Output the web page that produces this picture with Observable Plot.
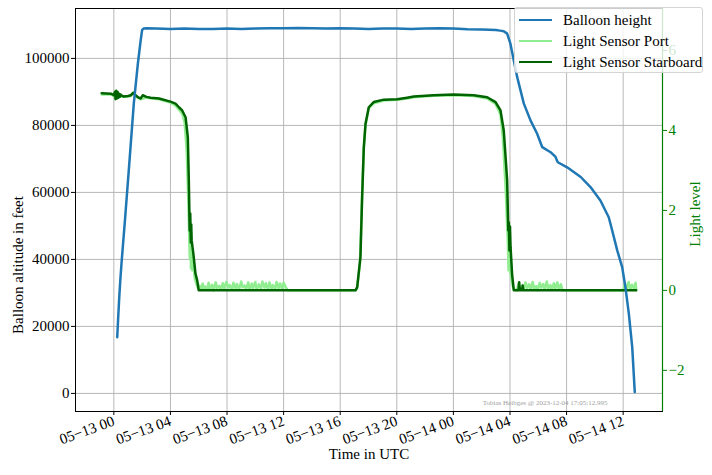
<!DOCTYPE html>
<html><head><meta charset="utf-8">
<script src="https://cdn.jsdelivr.net/npm/d3@7"></script>
<script src="https://cdn.jsdelivr.net/npm/@observablehq/plot@0.6"></script>
<style>
body{margin:0;background:#fff}
#wrap{position:relative;width:712px;height:475px;overflow:hidden}
#legend{position:absolute;left:514px;top:7px;width:189px;height:66px;background:rgba(255,255,255,0.8);border:1px solid #d4d4d4;border-radius:3px;font-family:"Liberation Serif";font-size:15px;color:#000;box-sizing:border-box}
.row{position:absolute;left:4px;height:20px;display:flex;align-items:center;white-space:nowrap}
.sw{width:33px;height:0;border-top:2.6px solid;margin-right:11px}
</style>
</head><body>
<div id="wrap"></div>
<script>
// ---- data (hours after 2023-05-13 00:00 UTC) ----
const balloonHours = [0.24,0.3,0.38,0.46,0.54,0.8,1.0,1.18,1.41,1.7,1.9,2.0,2.1,2.3,3,4,5,6,7,8,9,10,11,12,13,14,15,16,17,18,19,20,21,22,23,24,25,26,27,27.3,27.56,27.8,28.03,28.27,28.51,28.98,29.45,29.92,30.28,30.87,31.22,31.3,31.38,32.04,33.0,33.69,34.39,34.98,35.22,35.58,35.93,36.16,36.4,36.64,36.82];
const balloonFeet = [16800,22000,28500,34000,38700,52500,63500,73500,86500,98500,105500,108500,108900,109000,108900,108800,108900,108800,108800,108900,108800,108900,109000,109000,109100,109000,108900,109000,108900,108800,108900,108900,108800,108900,109000,108900,108700,108600,108500,108300,108100,107400,104400,99400,94400,86500,81500,77500,73500,72000,70600,69700,69000,67500,64600,61600,57600,52600,48700,42700,37700,31700,23800,13800,400];

const starboardHours = [-0.86,-0.2,0.0,0.08,0.12,0.17,0.22,0.27,0.32,0.37,0.42,0.48,0.55,0.7,1.0,1.2,1.37,1.6,1.75,1.89,2.05,2.3,2.6,3.2,4.0,4.36,4.6,4.83,5.07,5.23,5.3,5.36,5.4,5.44,5.47,5.5,5.62,5.77,5.89,6.0,17.08,17.2,17.43,17.55,17.67,17.79,18.02,18.37,19.08,20.03,20.73,21.2,22.61,24.03,25.44,26.39,26.98,27.33,27.56,27.8,27.88,27.92,27.96,28.0,28.04,28.15,28.27,28.6,28.65,28.7,28.85,28.9,28.95,36.92];
const starboardLevel = [4.93,4.92,4.88,4.97,4.78,4.99,4.8,4.96,4.82,4.92,4.84,4.9,4.87,4.85,4.86,4.88,4.94,4.86,4.82,4.8,4.88,4.84,4.82,4.8,4.72,4.67,4.58,4.5,4.33,3.83,2.75,1.5,1.92,1.2,1.65,1.25,0.92,0.42,0.25,0.0,0.0,0.08,0.83,2.33,3.58,4.17,4.58,4.71,4.77,4.78,4.82,4.85,4.88,4.9,4.88,4.83,4.71,4.5,4.0,2.75,1.5,1.7,1.0,1.6,1.08,0.4,0.0,0.0,0.2,0.0,0.0,0.12,0.0,0.0];

const portHours = [-0.86,-0.2,0.0,0.15,0.3,0.45,0.7,1.0,1.2,1.37,1.6,1.89,2.3,3.2,4.0,4.36,4.6,4.83,5.0,5.15,5.25,5.33,5.37,5.41,5.45,5.5,5.55,5.62,5.72,5.85,5.95,
  6.05,6.15,6.28,6.35,6.45,6.6,6.7,6.8,6.95,7.05,7.2,7.3,7.45,7.55,7.7,7.8,7.95,8.1,8.2,8.35,8.45,8.6,8.7,8.85,9.0,9.1,9.25,9.35,9.5,9.6,9.75,9.85,10.0,10.1,10.25,10.4,10.5,10.65,10.75,10.9,11.0,11.15,11.25,11.4,11.5,11.65,11.75,11.9,12.0,12.15,12.3,
  17.08,17.2,17.4,17.53,17.65,17.78,18.02,18.37,19.08,20.03,20.73,21.2,22.61,24.03,25.44,26.39,26.98,27.33,27.5,27.7,27.85,27.9,27.95,28.05,28.2,28.3,
  28.5,28.6,28.7,28.85,28.95,29.1,29.2,29.35,29.45,29.6,29.7,29.85,29.95,30.1,30.2,30.35,30.45,30.6,30.7,30.85,30.95,31.1,31.2,31.35,31.45,31.6,31.7,
  36.0,36.12,36.25,36.38,36.5,36.62,36.75,36.88,36.92];
const portLevel = [4.9,4.9,4.86,4.8,4.92,4.84,4.84,4.85,4.86,4.95,4.84,4.78,4.82,4.78,4.7,4.62,4.52,4.42,4.2,3.5,2.4,1.3,0.8,1.5,0.55,0.9,0.5,0.7,0.3,0.15,0.05,
  0.12,0.02,0.17,0.05,0.1,0.01,0.19,0.04,0.14,0.0,0.2,0.06,0.11,0.02,0.18,0.03,0.21,0.07,0.13,0.01,0.19,0.05,0.16,0.02,0.22,0.08,0.12,0.03,0.2,0.01,0.17,0.06,0.21,0.02,0.15,0.04,0.22,0.07,0.18,0.01,0.2,0.05,0.13,0.02,0.21,0.06,0.17,0.03,0.19,0.08,0.0,
  0.0,0.05,0.7,2.2,3.5,4.12,4.55,4.68,4.75,4.77,4.8,4.83,4.87,4.88,4.86,4.8,4.66,4.4,3.8,2.5,1.2,0.5,0.9,0.4,0.1,0.02,
  0.0,0.17,0.03,0.12,0.01,0.2,0.06,0.15,0.02,0.21,0.04,0.11,0.0,0.19,0.07,0.16,0.02,0.22,0.05,0.13,0.01,0.18,0.04,0.2,0.03,0.15,0.0,
  0.0,0.17,0.04,0.21,0.02,0.14,0.05,0.19,0.0];

const altitudeTicks = [0,20000,40000,60000,80000,100000];
const lightTicks = [-2,0,2,4,6];
const altitudeDomain = [-5400,114900];
const lightDomain = [-3.03,7.05];
const timeDomainHours = [-2.71,38.78];
const seriesNames = ["Balloon height","Light Sensor Port","Light Sensor Starboard"];
const seriesColors = ["#1f77b4","#90ee90","#006400"];
const watermark = "Tobias Heibges @ 2023-12-04 17:05:12.995";

// ---- build ----
const base = Date.UTC(2023,4,13);
const toDate = h => new Date(base + h*3600e3);
const light2ft = d3.scaleLinear().domain(lightDomain).range(altitudeDomain);
const balloon = balloonHours.map((h,i)=>({t:toDate(h), v:balloonFeet[i]}));
const starboard = starboardHours.map((h,i)=>({t:toDate(h), v:light2ft(starboardLevel[i])}));
const port = portHours.map((h,i)=>({t:toDate(h), v:light2ft(portLevel[i])}));
const xDomain = timeDomainHours.map(toDate);
const xTicks = d3.utcHour.every(4).range(xDomain[0], xDomain[1]);
const fmtTime = d => d3.utcFormat("%m-%d %H")(d).replace(/-/g,"\u2212");
const grid = {stroke:"#b0b0b0", strokeOpacity:1, strokeWidth:0.9};

const chart = Plot.plot({
  width:712, height:475,
  marginLeft:75, marginRight:50, marginTop:8, marginBottom:64,
  style:{fontFamily:"Liberation Serif", fontSize:"15px", background:"white", color:"black"},
  x:{type:"utc", domain:xDomain},
  y:{domain:altitudeDomain},
  marks:[
    Plot.gridX(xTicks, grid),
    Plot.gridY(altitudeTicks, grid),
    Plot.line(port, {x:"t", y:"v", stroke:seriesColors[1], strokeWidth:2.5}),
    Plot.line(starboard, {x:"t", y:"v", stroke:seriesColors[2], strokeWidth:2.5}),
    Plot.line(balloon, {x:"t", y:"v", stroke:seriesColors[0], strokeWidth:2.5}),
    Plot.frame({stroke:"black", strokeWidth:1}),
    Plot.ruleX([xDomain[1]], {stroke:"green", strokeWidth:1.2}),
    Plot.axisY(altitudeTicks, {anchor:"left", tickFormat:d=>String(d), tickSize:4, tickPadding:2, label:null, fontSize:15}),
    Plot.axisY(lightTicks.map(light2ft), {anchor:"right", tickFormat:v=>d3.format("d")(Math.round(light2ft.invert(v))), tickSize:4, tickPadding:2, label:null, color:"green", fontSize:15}),
    Plot.axisX(xTicks, {tickFormat:fmtTime, tickRotate:-20, tickSize:4, tickPadding:5, label:null, fontSize:15}),
    Plot.text(["Time in UTC"], {frameAnchor:"bottom", dy:47, fontSize:15}),
    Plot.text(["Balloon altitude in feet"], {frameAnchor:"left", textAnchor:"middle", dx:-57, dy:55, rotate:-90, fontSize:15}),
    Plot.text(["Light level"], {frameAnchor:"right", textAnchor:"middle", dx:33, dy:4, rotate:-90, fontSize:15, fill:"green"}),
    Plot.text([watermark], {frameAnchor:"bottom-right", dx:-55, dy:-7, fontSize:7, fill:"#a0a0a0", textAnchor:"end"})
  ]
});
const wrap = document.getElementById("wrap");
wrap.appendChild(chart);
const legend = document.createElement("div");
legend.id = "legend";
seriesNames.forEach((name,i)=>{
  const row = document.createElement("div");
  row.className = "row";
  row.style.top = (2 + i*21) + "px";
  const sw = document.createElement("span");
  sw.className = "sw"; sw.style.borderTopColor = seriesColors[i];
  const tx = document.createElement("span"); tx.textContent = name;
  row.appendChild(sw); row.appendChild(tx);
  legend.appendChild(row);
});
wrap.appendChild(legend);
</script>
</body></html>
